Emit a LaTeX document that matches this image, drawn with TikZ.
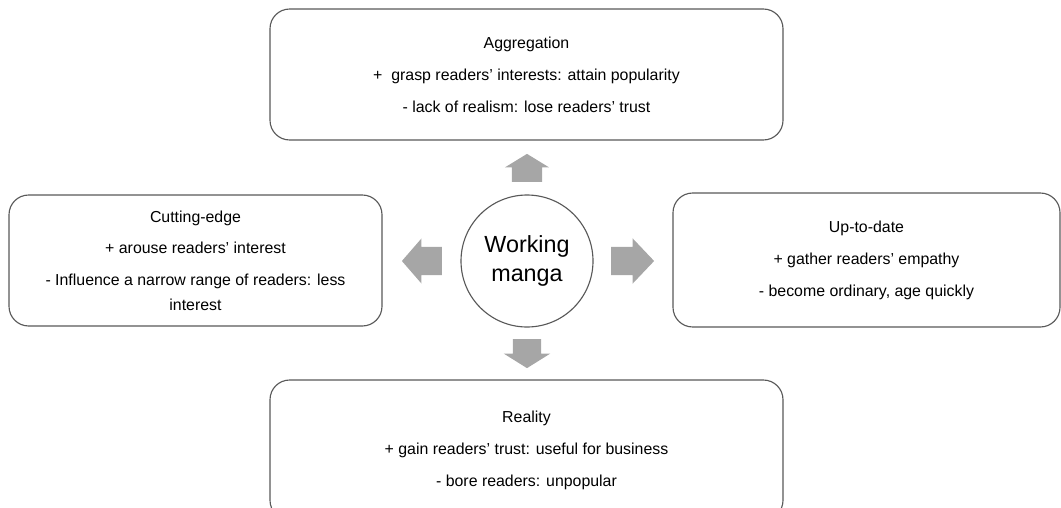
\documentclass[tikz,border=0pt]{standalone}
\usepackage{fontspec}
\setmainfont{Liberation Sans}
\usetikzlibrary{shapes.arrows, positioning}
\definecolor{cline}{HTML}{595959}
\definecolor{carrow}{HTML}{A6A6A6}
\tikzset{
  every picture/.style={line width=0.8pt},
  box/.style={draw=cline, fill=white, rounded corners=14pt, align=center, inner sep=4pt,
              font=\fontsize{11.3}{17.4}\selectfont},
  hub/.style={draw=cline, circle, minimum size=3.3cm, inner sep=0pt, align=center,
              font=\fontsize{16.6}{21}\selectfont},
  blockarrow/.style={single arrow, fill=carrow, draw=none, inner xsep=0pt, anchor=tail},
}

\begin{document}
\begin{tikzpicture}
  \useasboundingbox (0,0) rectangle (26.525,-12.7);
  \node[hub] (hub) at (13.175,-6.525) {Working\\manga};
  % four boxes round the hub
  \node[box, minimum width=12.825cm, minimum height=3.275cm] (agg) at (13.1625,-1.8625)
    {Aggregation\\[5.3pt] +\ \ grasp readers’ interests: attain popularity\\[5.3pt] - lack of realism: lose readers’ trust};
  \node[box, minimum width=9.325cm, minimum height=3.275cm] (cut) at (4.8875,-6.5125)
    {Cutting-edge\\[5.3pt] + arouse readers’ interest\\[5.3pt] - Influence a narrow range of readers: less\\ interest};
  \node[box, minimum width=9.675cm, minimum height=3.35cm] (upd) at (21.6625,-6.5)
    {Up-to-date\\[5.3pt] + gather readers’ empathy\\[5.3pt] - become ordinary, age quickly};
  \node[box, minimum width=12.825cm, minimum height=3.5cm] (rea) at (13.1625,-11.25)
    {Reality\\[5.3pt] + gain readers’ trust: useful for business\\[5.3pt] - bore readers: unpopular};
  % block arrows out of the hub
  \node[blockarrow, rotate=90, minimum height=0.7cm, inner ysep=0.3625cm,
        single arrow head extend=0.175cm, single arrow tip angle=117] (aup) at ([yshift=0.3cm]hub.north) {};
  \node[blockarrow, rotate=270, minimum height=0.725cm, inner ysep=0.3375cm,
        single arrow head extend=0.225cm, single arrow tip angle=116] (adown) at ([yshift=-0.275cm]hub.south) {};
  \node[blockarrow, rotate=180, minimum height=1.0cm, inner ysep=0.3375cm,
        single arrow head extend=0.2125cm, single arrow tip angle=98] (aleft) at ([xshift=-0.45cm]hub.west) {};
  \node[blockarrow, minimum height=1.075cm, inner ysep=0.3375cm,
        single arrow head extend=0.2125cm, single arrow tip angle=93] (aright) at ([xshift=0.425cm]hub.east) {};
\end{tikzpicture}
\end{document}
